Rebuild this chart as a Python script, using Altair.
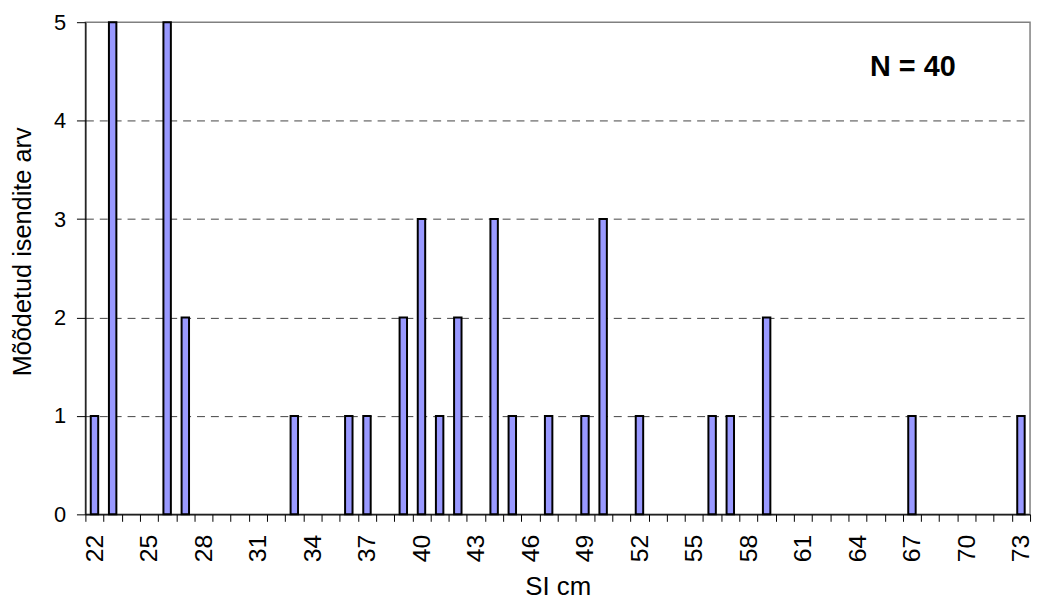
import altair as alt
import pandas as pd

# ---- data ----
si_values = [22, 23, 26, 27, 33, 36, 37, 39, 40, 41, 42, 44, 45, 47, 49, 50, 52, 56, 57, 59, 67, 73]
counts = [1, 5, 5, 2, 1, 1, 1, 2, 3, 1, 2, 3, 1, 1, 1, 3, 1, 1, 1, 2, 1, 1]
category_min, category_max = 22, 73
tick_labels = list(range(22, 74, 3))
y_ticks = [0, 1, 2, 3, 4, 5]
note_text = "N = 40"
note_si = 67.05
note_count = 4.54

FONT = "Liberation Sans, Arial, Helvetica, sans-serif"
W, H = 952, 496
n_cat = category_max - category_min + 1
step = W / n_cat

bars_df = pd.DataFrame({"si": si_values, "count": counts})
note_df = pd.DataFrame({"si": [note_si], "count": [note_count], "label": [note_text]})

boundaries = [category_min - 0.5 + i for i in range(n_cat + 1)]
label_list = ",".join(str(v) for v in tick_labels)
label_expr = (
    f"indexof([{label_list}], datum.value + 0.5) >= 0 ? "
    "format(datum.value + 0.5, 'd') : ''"
)

x_scale = alt.Scale(domain=[category_min - 0.5, category_max + 0.5], nice=False, zero=False, padding=0)
y_scale = alt.Scale(domain=[0, 5], nice=False, zero=True)

x_axis = alt.Axis(
    values=boundaries,
    tickCount=200,
    labelExpr=label_expr,
    labelOffset=step / 2,
    labelAngle=-90,
    labelAlign="right",
    labelBaseline="middle",
    labelOverlap=False,
    labelBound=False,
    labelFlush=False,
    labelFont=FONT,
    labelFontSize=25,
    labelColor="black",
    labelPadding=13,
    ticks=True,
    tickSize=7,
    tickColor="black",
    tickWidth=1,
    domainColor="black",
    domainWidth=1.2,
    grid=False,
    title="SI cm",
    titleFont=FONT,
    titleFontSize=26,
    titleFontWeight="normal",
    titleColor="black",
    titleX=W / 2,
    titleY=73,
    titleAlign="center",
    titleBaseline="middle",
)

y_axis = alt.Axis(
    values=y_ticks,
    tickCount=10,
    format="d",
    labelFont=FONT,
    labelFontSize=22,
    labelColor="black",
    labelPadding=11,
    tickSize=9,
    tickColor="black",
    tickWidth=1,
    domainColor="black",
    domainWidth=1.2,
    grid=True,
    gridColor="#444444",
    gridDash=[8, 6],
    gridWidth=1,
    gridOpacity=alt.condition("datum.value == 0 || datum.value == 5", alt.value(0), alt.value(1)),
    title="Mõõdetud isendite arv",
    titleFont=FONT,
    titleFontSize=25.5,
    titleFontWeight="normal",
    titleColor="black",
    titleAngle=-90,
    titleX=-63.5,
    titleY=231,
    titleAlign="center",
    titleBaseline="middle",
)

bars = alt.Chart(bars_df).mark_bar(
    size=7.5, color="#9999FF", stroke="black", strokeWidth=2
).encode(
    x=alt.X("si:Q", scale=x_scale, axis=x_axis),
    y=alt.Y("count:Q", scale=y_scale, axis=y_axis),
)

note = alt.Chart(note_df).mark_text(
    font=FONT, fontSize=29, fontWeight="bold", color="black",
    align="center", baseline="middle"
).encode(
    x=alt.X("si:Q", scale=x_scale),
    y=alt.Y("count:Q", scale=y_scale),
    text="label:N",
)

chart = alt.layer(bars, note).properties(
    width=W,
    height=H,
    autosize=alt.AutoSizeParams(type="none"),
    padding={"left": 78, "top": 12, "right": 5, "bottom": 84},
    background="white",
).configure_view(
    stroke="#808080",
    strokeWidth=1.5,
)

chart.save("out.html", embed_options={"renderer": "svg", "actions": False})
